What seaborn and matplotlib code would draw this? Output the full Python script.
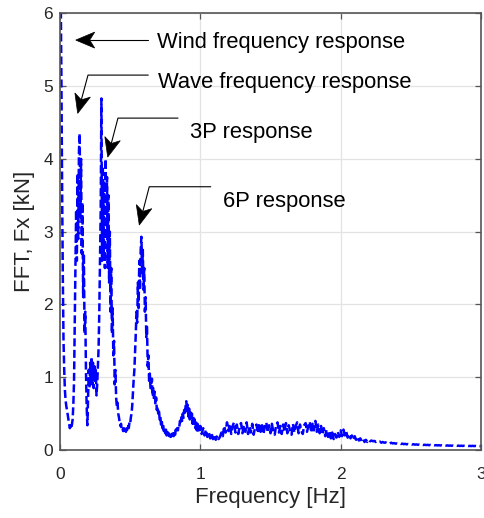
import numpy as np
import pandas as pd
import matplotlib
matplotlib.use("Agg")
import matplotlib.pyplot as plt
import seaborn as sns
from matplotlib.patches import Polygon

# ---------------- data ----------------
# spectrum 0 - 1 Hz, 0.005 Hz bins
amp_0_to_1 = [
    6.8, 6.3, 5.1, 3.6, 2.4, 1.5, 1.1, 0.82, 0.68, 0.6,
    0.55, 0.48, 0.42, 0.36, 0.30, 0.33, 0.29, 0.35, 0.42, 0.62,
    0.95, 1.7, 2.4, 3.3, 2.6, 3.8, 2.9, 4.1, 4.35, 3.2,
    4.0, 2.7, 3.4, 2.1, 2.7, 1.6, 1.9, 1.1, 0.6, 0.34,
    0.7, 1.1, 0.85, 1.2, 0.95, 1.28, 0.9, 1.2, 0.85, 1.15,
    0.95, 1.1, 0.75, 0.9, 1.15, 1.4, 1.9, 2.6, 3.3, 4.83,
    2.6, 3.9, 2.7, 3.7, 2.5, 4.0, 2.9, 3.75, 2.5, 3.5,
    2.3, 3.0, 1.9, 2.5, 1.6, 1.95, 1.3, 1.5, 0.9, 1.1,
    0.72, 0.6, 0.65, 0.5, 0.45, 0.38, 0.33, 0.36, 0.28, 0.3,
    0.26, 0.3, 0.24, 0.27, 0.25, 0.3, 0.28, 0.33, 0.3, 0.38,
    0.36, 0.45, 0.5, 0.62, 0.8, 0.97, 1.1, 1.35, 1.6, 1.9,
    1.75, 2.3, 1.95, 2.6, 2.2, 2.75, 2.93, 2.4, 2.75, 2.2,
    2.5, 1.9, 2.1, 1.55, 1.7, 1.15, 1.3, 0.95, 1.05, 0.85,
    0.85, 0.98, 0.74, 0.86, 0.68, 0.8, 0.62, 0.72, 0.55, 0.6,
    0.5, 0.56, 0.42, 0.46, 0.35, 0.4, 0.3, 0.35, 0.26, 0.31,
    0.23, 0.28, 0.2, 0.25, 0.18, 0.23, 0.19, 0.24, 0.18, 0.22,
    0.2, 0.25, 0.19, 0.26, 0.21, 0.28, 0.24, 0.3, 0.27, 0.34,
    0.32, 0.4, 0.36, 0.45, 0.4, 0.5, 0.44, 0.55, 0.48, 0.6,
    0.67, 0.52, 0.62, 0.46, 0.57, 0.42, 0.53, 0.4, 0.5, 0.36,
    0.46, 0.33, 0.42, 0.3, 0.39, 0.27, 0.36, 0.25, 0.33, 0.24,
]
# spectrum 1 - 3 Hz, 0.01 Hz bins
amp_1_to_3 = [
    0.33, 0.22, 0.3, 0.2, 0.28, 0.18, 0.25, 0.16, 0.23, 0.15,
    0.21, 0.14, 0.2, 0.15, 0.18, 0.24, 0.19, 0.33, 0.24, 0.38,
    0.26, 0.36, 0.22, 0.33, 0.38, 0.24, 0.35, 0.22, 0.32, 0.37,
    0.23, 0.34, 0.25, 0.38, 0.22, 0.33, 0.24, 0.36, 0.21, 0.31,
    0.35, 0.23, 0.37, 0.25, 0.34, 0.22, 0.33, 0.38, 0.24, 0.34,
    0.23, 0.36, 0.25, 0.21, 0.34, 0.38, 0.24, 0.33, 0.22, 0.35,
    0.25, 0.37, 0.23, 0.34, 0.26, 0.21, 0.36, 0.24, 0.33, 0.38,
    0.23, 0.35, 0.26, 0.22, 0.34, 0.37, 0.25, 0.33, 0.39, 0.24,
    0.36, 0.27, 0.4, 0.25, 0.35, 0.23, 0.33, 0.21, 0.3, 0.19,
    0.28, 0.18, 0.26, 0.16, 0.24, 0.15, 0.22, 0.17, 0.25, 0.18,
    0.27, 0.19, 0.28, 0.2, 0.25, 0.17, 0.22, 0.16, 0.2, 0.14,
    0.19, 0.14, 0.18, 0.13, 0.16, 0.12, 0.15, 0.11, 0.14, 0.11,
    0.14, 0.12, 0.13, 0.12, 0.125, 0.11, 0.12, 0.11, 0.115, 0.1,
    0.11, 0.1, 0.105, 0.095, 0.1, 0.09, 0.1, 0.09, 0.095, 0.088,
    0.09, 0.085, 0.09, 0.082, 0.088, 0.08, 0.085, 0.078, 0.082, 0.077,
    0.08, 0.075, 0.079, 0.073, 0.077, 0.072, 0.075, 0.07, 0.074, 0.069,
    0.072, 0.068, 0.071, 0.066, 0.07, 0.065, 0.068, 0.064, 0.067, 0.063,
    0.066, 0.062, 0.065, 0.061, 0.064, 0.06, 0.063, 0.059, 0.062, 0.058,
    0.061, 0.058, 0.06, 0.057, 0.06, 0.056, 0.059, 0.056, 0.058, 0.055,
    0.058, 0.055, 0.057, 0.054, 0.057, 0.054, 0.056, 0.053, 0.056, 0.054,
    0.055,
]
BIN_LOW = 0.005
BIN_HIGH = 0.01

x_ticks = [0, 1, 2, 3]
y_ticks = [0, 1, 2, 3, 4, 5, 6]
x_label = "Frequency [Hz]"
y_label = "FFT, Fx [kN]"

# annotations: text, text position, arrow tail, optional bend, arrow tip (data coords)
annotations = [
    ("Wind frequency response", (0.689, 5.518), (0.629, 5.632), None, (0.112, 5.632)),
    ("Wave frequency response", (0.696, 4.979), (0.629, 5.151), (0.1996, 5.151), (0.126, 4.625)),
    ("3P response", (0.927, 4.282), (0.841, 4.56), (0.413, 4.56), (0.34, 4.025)),
    ("6P response", (1.160, 3.342), (1.074, 3.617), (0.636, 3.617), (0.565, 3.091)),
]

# ---------------- frame ----------------
freq = np.concatenate([np.arange(len(amp_0_to_1)) * BIN_LOW,
                       1.0 + np.arange(len(amp_1_to_3)) * BIN_HIGH])
amp = np.array(amp_0_to_1 + amp_1_to_3)
df = pd.DataFrame({"freq": freq, "amp": amp})

sns.set_theme(style="white")
plt.rcParams["font.family"] = ["Liberation Sans", "DejaVu Sans"]

fig = plt.figure(figsize=(4.84, 5.18), dpi=100)
ax = fig.add_axes([60 / 484, 68 / 518, 421 / 484, 436.7 / 518])

sns.lineplot(data=df, x="freq", y="amp", ax=ax, color="#0000ff",
             linewidth=1.8, estimator=None, sort=False)
ln = ax.lines[0]
ln.set_linestyle((0, (3.2, 1.4)))

ax.set_xlim(0, 3)
ax.set_ylim(0, 6)
ax.set_xticks(x_ticks)
ax.set_yticks(y_ticks)
ax.set_xticklabels([str(t) for t in x_ticks])
ax.set_yticklabels([str(t) for t in y_ticks])

ax.grid(True, color="#e3e3e3", linewidth=0.9)
ax.set_axisbelow(True)
for s in ax.spines.values():
    s.set_visible(True)
    s.set_color("#555555")
    s.set_linewidth(1.2)

ax.tick_params(direction="in", length=4, width=0.9, colors="#555555",
               top=True, right=True, bottom=True, left=True,
               labelsize=12.5, labelcolor="#262626")
ax.tick_params(axis="x", pad=12)
ax.tick_params(axis="y", pad=5)

ax.set_xlabel(x_label, fontsize=16, color="#262626", labelpad=4)
ax.set_ylabel(y_label, fontsize=16, color="#262626", labelpad=6)

# ---------------- annotations ----------------
to_px = ax.transData.transform
to_data = ax.transData.inverted().transform
HEAD_L, HEAD_W, NOTCH = 19.0, 8.0, 5.0
for text, tpos, tail, bend, tip in annotations:
    ax.text(tpos[0], tpos[1], text, fontsize=15.8, color="black",
            ha="left", va="baseline")
    pts = [tail] + ([bend] if bend is not None else []) + [tip]
    p_tip = to_px(tip)
    p_prev = to_px(pts[-2])
    d = p_tip - p_prev
    d = d / np.hypot(*d)
    n = np.array([-d[1], d[0]])
    back = p_tip - d * HEAD_L
    notch = back + d * NOTCH
    head = np.array([p_tip, back + n * HEAD_W, notch, back - n * HEAD_W])
    head_data = to_data(head)
    ax.add_patch(Polygon(head_data, closed=True, facecolor="black",
                         edgecolor="black", linewidth=0.5, clip_on=False, zorder=5))
    line_pts = np.array(pts[:-1] + [tuple(to_data(notch))])
    ax.plot(line_pts[:, 0], line_pts[:, 1], color="black", linewidth=0.8,
            clip_on=False, zorder=5)

fig.savefig("out.png", dpi=100)
